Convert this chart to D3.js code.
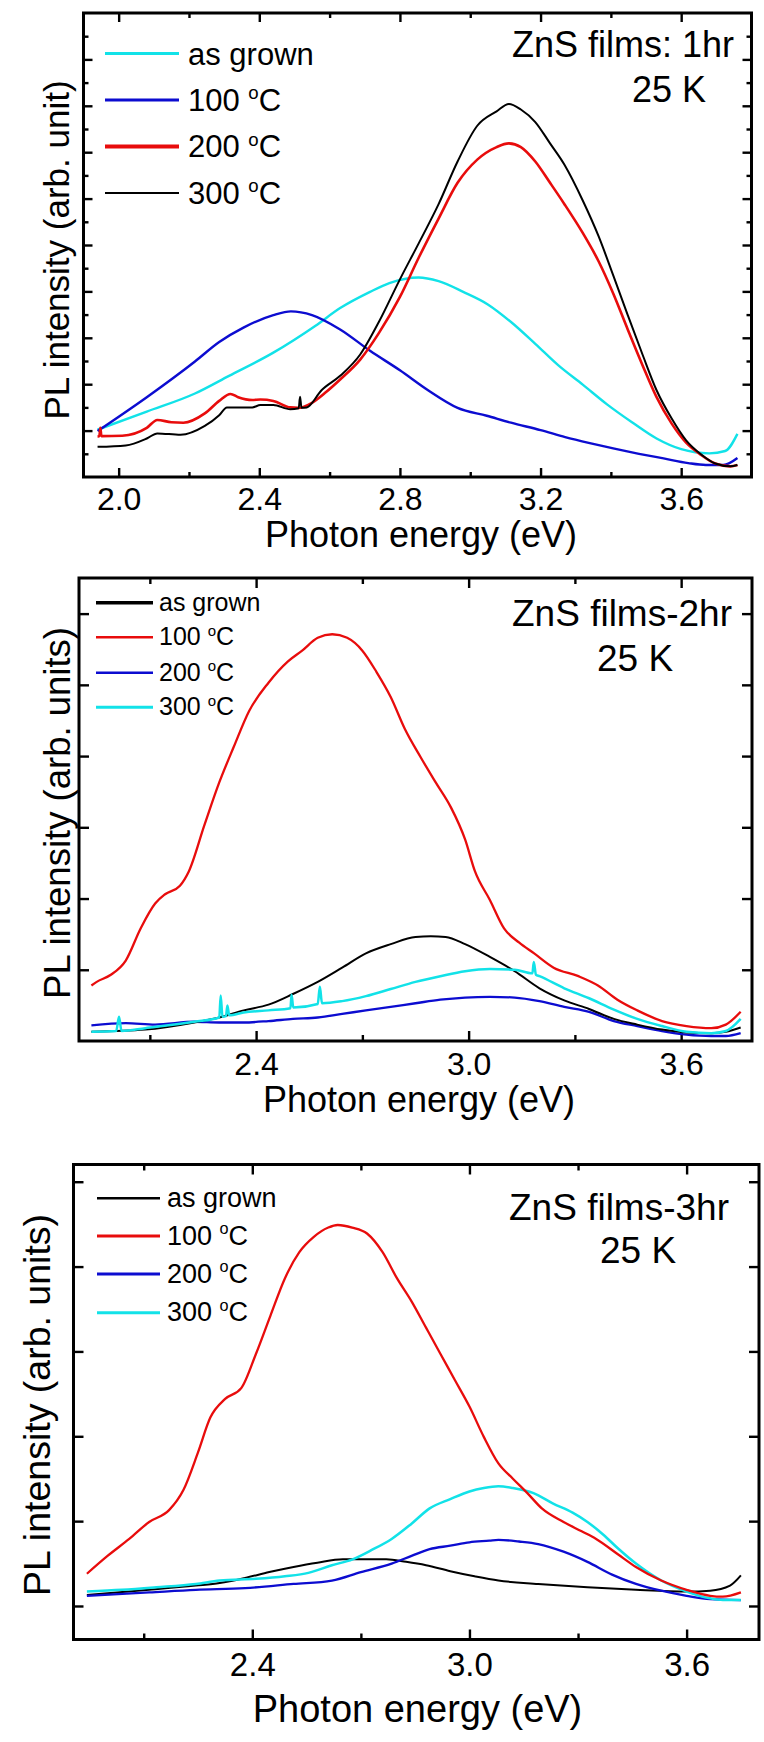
<!DOCTYPE html>
<html><head><meta charset="utf-8">
<script src="https://cdn.jsdelivr.net/npm/d3@7"></script>
<style>
body{margin:0;background:#fff}
svg{display:block}
text{font-family:"Liberation Sans",Arial,Helvetica,sans-serif;fill:#000}
</style>
</head><body>
<svg id="c" width="764" height="1742"></svg>
<script>
// ---------- colours ----------
const CYAN = "#12e2e8", BLUE = "#0c0cd0", RED = "#e80c0c", BLACK = "#000000";

// ---------- tick values ----------
const p1XMajor = [2.0, 2.4, 2.8, 3.2, 3.6];
const p1XMinor = [2.2, 2.6, 3.0, 3.4];
const p1YMajor = [1, 2, 3, 4, 5, 6, 7, 8, 9];
const p1YMinor = [0.5, 1.5, 2.5, 3.5, 4.5, 5.5, 6.5, 7.5, 8.5, 9.5];
const p23XMajor = [2.4, 3.0, 3.6];
const p23XMinor = [2.1, 2.7, 3.3];
const p2YMajor = [1, 2, 3, 4, 5, 6];
const p3YMajor = [0, 1, 2, 3, 4, 5];

// ---------- labels ----------
const legendLabels1 = ["as grown", "100", "200", "300"];
const legendLabels23 = ["as grown", "100", "200", "300"];
const xTitle = "Photon energy (eV)";
const yTitle1 = "PL intensity (arb. unit)";
const yTitle23 = "PL intensity (arb. units)";
const notes1 = ["ZnS films: 1hr", "25 K"];
const notes2 = ["ZnS films-2hr", "25 K"];
const notes3 = ["ZnS films-3hr", "25 K"];

// ---------- panel 1 data [eV, intensity] ----------
const p1AsGrown = [[1.94,1.02],[2.08,1.41],[2.217,1.80],[2.314,2.18],[2.44,2.68],[2.56,3.26],[2.63,3.64],[2.715,3.99],[2.77,4.18],[2.853,4.30],[2.91,4.22],[2.98,3.99],[3.05,3.72],[3.116,3.34],[3.185,2.87],[3.25,2.41],[3.32,1.99],[3.39,1.56],[3.46,1.18],[3.53,0.83],[3.60,0.60],[3.68,0.51],[3.725,0.56],[3.76,0.93]];
const p1T100 = [[1.94,0.99],[2.08,1.72],[2.217,2.49],[2.286,2.91],[2.355,3.22],[2.44,3.49],[2.49,3.57],[2.55,3.49],[2.63,3.18],[2.715,2.72],[2.80,2.30],[2.88,1.87],[2.964,1.49],[3.047,1.32],[3.116,1.17],[3.20,1.01],[3.27,0.86],[3.34,0.73],[3.41,0.61],[3.48,0.50],[3.55,0.40],[3.62,0.30],[3.67,0.26],[3.72,0.26],[3.76,0.41]];
const p1T200 = [[1.94,0.87],[1.945,0.88],[1.948,1.06],[1.951,0.88],[2.01,0.89],[2.08,1.06],[2.11,1.23],[2.15,1.18],[2.184,1.17],[2.245,1.37],[2.286,1.64],[2.318,1.79],[2.34,1.72],[2.38,1.66],[2.403,1.67],[2.44,1.64],[2.488,1.50],[2.51,1.49],[2.55,1.60],[2.59,1.83],[2.63,2.10],[2.687,2.53],[2.74,3.10],[2.80,3.88],[2.853,4.72],[2.91,5.57],[2.964,6.34],[3.02,6.84],[3.075,7.11],[3.11,7.19],[3.144,7.11],[3.185,6.80],[3.227,6.34],[3.268,5.88],[3.32,5.26],[3.365,4.65],[3.407,3.95],[3.448,3.18],[3.49,2.41],[3.53,1.72],[3.573,1.15],[3.614,0.74],[3.656,0.48],[3.697,0.29],[3.74,0.23],[3.76,0.26]];
const p1T300 = [[1.94,0.65],[2.02,0.68],[2.08,0.83],[2.11,0.94],[2.176,0.91],[2.245,1.10],[2.286,1.33],[2.308,1.50],[2.38,1.50],[2.403,1.55],[2.44,1.55],[2.488,1.46],[2.512,1.48],[2.516,1.73],[2.52,1.49],[2.535,1.50],[2.577,1.87],[2.63,2.18],[2.687,2.64],[2.74,3.34],[2.80,4.26],[2.853,5.03],[2.91,5.88],[2.964,6.80],[3.02,7.57],[3.075,7.88],[3.11,8.04],[3.144,7.92],[3.185,7.65],[3.227,7.19],[3.268,6.73],[3.32,5.96],[3.365,5.19],[3.407,4.34],[3.448,3.49],[3.49,2.64],[3.53,1.87],[3.573,1.26],[3.614,0.79],[3.656,0.49],[3.697,0.29],[3.74,0.23],[3.76,0.26]];

// ---------- panel 2 data ----------
const p2AsGrown = [[1.935,0.13],[2.087,0.16],[2.226,0.26],[2.296,0.33],[2.365,0.43],[2.435,0.51],[2.504,0.66],[2.574,0.83],[2.643,1.03],[2.71,1.23],[2.78,1.36],[2.85,1.46],[2.893,1.47],[2.935,1.46],[2.99,1.36],[3.06,1.18],[3.13,0.98],[3.2,0.74],[3.27,0.57],[3.34,0.45],[3.41,0.31],[3.476,0.23],[3.546,0.16],[3.615,0.12],[3.685,0.11],[3.726,0.13],[3.768,0.19]];
const p2T100 = [[1.935,0.78],[1.95,0.83],[1.99,0.93],[2.032,1.13],[2.074,1.58],[2.115,1.93],[2.143,2.06],[2.185,2.18],[2.21,2.38],[2.254,3.03],[2.296,3.63],[2.337,4.13],[2.38,4.63],[2.435,5.03],[2.49,5.33],[2.53,5.48],[2.574,5.66],[2.615,5.71],[2.657,5.66],[2.70,5.48],[2.74,5.18],[2.78,4.83],[2.82,4.38],[2.865,3.98],[2.907,3.63],[2.95,3.28],[2.99,2.83],[3.018,2.38],[3.06,1.98],[3.10,1.58],[3.143,1.38],[3.185,1.23],[3.24,1.03],[3.31,0.91],[3.365,0.78],[3.42,0.58],[3.476,0.43],[3.546,0.28],[3.615,0.21],[3.685,0.18],[3.726,0.23],[3.768,0.41]];
const p2T200 = [[1.935,0.22],[2.032,0.25],[2.115,0.23],[2.226,0.27],[2.296,0.26],[2.365,0.26],[2.435,0.28],[2.504,0.31],[2.574,0.33],[2.643,0.38],[2.71,0.43],[2.78,0.48],[2.85,0.53],[2.92,0.58],[2.99,0.61],[3.06,0.62],[3.13,0.61],[3.2,0.56],[3.27,0.48],[3.34,0.41],[3.41,0.28],[3.476,0.21],[3.546,0.14],[3.615,0.09],[3.685,0.07],[3.726,0.07],[3.768,0.11]];
const p2T300 = [[1.935,0.13],[2.005,0.14],[2.013,0.34],[2.02,0.14],[2.087,0.18],[2.226,0.27],[2.296,0.33],[2.30,0.64],[2.305,0.34],[2.315,0.35],[2.319,0.50],[2.324,0.36],[2.365,0.40],[2.435,0.43],[2.497,0.46],[2.50,0.65],[2.505,0.47],[2.574,0.52],[2.58,0.76],[2.586,0.53],[2.643,0.56],[2.71,0.63],[2.78,0.73],[2.85,0.83],[2.92,0.91],[2.99,0.98],[3.06,1.01],[3.13,1.0],[3.18,0.95],[3.184,1.11],[3.19,0.93],[3.20,0.91],[3.27,0.74],[3.34,0.60],[3.41,0.44],[3.476,0.31],[3.546,0.21],[3.615,0.13],[3.685,0.11],[3.726,0.14],[3.768,0.31]];

// ---------- panel 3 data ----------
const p3AsGrown = [[1.943,0.13],[2.115,0.19],[2.244,0.24],[2.31,0.27],[2.38,0.33],[2.447,0.40],[2.514,0.46],[2.58,0.51],[2.65,0.55],[2.7,0.55],[2.77,0.55],[2.825,0.52],[2.88,0.48],[2.947,0.41],[3.014,0.35],[3.08,0.30],[3.19,0.26],[3.326,0.22],[3.46,0.19],[3.6,0.17],[3.665,0.18],[3.72,0.24],[3.75,0.36]];
const p3T100 = [[1.943,0.38],[2.0,0.59],[2.06,0.79],[2.115,0.99],[2.17,1.13],[2.21,1.37],[2.25,1.81],[2.284,2.22],[2.325,2.44],[2.37,2.57],[2.41,2.97],[2.45,3.42],[2.49,3.86],[2.53,4.17],[2.57,4.35],[2.61,4.46],[2.636,4.49],[2.676,4.46],[2.717,4.39],[2.76,4.17],[2.80,3.86],[2.84,3.59],[2.88,3.28],[2.92,2.97],[2.96,2.66],[3.0,2.35],[3.04,1.99],[3.08,1.68],[3.12,1.50],[3.16,1.33],[3.2,1.15],[3.26,0.99],[3.31,0.88],[3.35,0.79],[3.41,0.61],[3.46,0.46],[3.53,0.30],[3.6,0.19],[3.665,0.12],[3.7,0.11],[3.75,0.16]];
const p3T200 = [[1.943,0.12],[2.115,0.16],[2.244,0.19],[2.38,0.21],[2.514,0.26],[2.62,0.30],[2.7,0.40],[2.785,0.50],[2.84,0.59],[2.89,0.67],[2.947,0.71],[3.0,0.75],[3.055,0.77],[3.08,0.78],[3.137,0.76],[3.19,0.73],[3.26,0.64],[3.326,0.52],[3.394,0.37],[3.46,0.26],[3.53,0.18],[3.6,0.12],[3.665,0.08],[3.75,0.07]];
const p3T300 = [[1.943,0.17],[2.04,0.19],[2.135,0.22],[2.244,0.26],[2.31,0.30],[2.41,0.32],[2.49,0.35],[2.555,0.39],[2.62,0.48],[2.677,0.55],[2.73,0.66],[2.785,0.79],[2.84,0.97],[2.89,1.15],[2.947,1.26],[3.0,1.35],[3.04,1.39],[3.08,1.41],[3.12,1.39],[3.177,1.33],[3.23,1.21],[3.285,1.10],[3.326,0.99],[3.37,0.84],[3.41,0.68],[3.46,0.50],[3.53,0.30],[3.6,0.17],[3.665,0.09],[3.7,0.07],[3.75,0.07]];

const svg = d3.select("#c");
const FONT = '"Liberation Sans",Arial,Helvetica,sans-serif';

function degreeLabel(t, num, fs) {
  if (num === "as grown") { t.text(num); return; }
  t.append("tspan").text(num + " ");
  t.append("tspan").text("o").attr("font-size", fs * 0.6).attr("dy", -fs * 0.38);
  t.append("tspan").text("C").attr("dy", fs * 0.38);
}

function drawPanel(c) {
  const g = svg.append("g");
  const x = d3.scaleLinear().domain(c.xDom).range([c.L, c.R]);
  const y = d3.scaleLinear().domain(c.yDom).range([c.B, c.T]);
  const fmt = d3.format(".1f");
  const style = sel => {
    sel.select(".domain").remove();
    sel.selectAll(".tick line").attr("stroke", "#000").attr("stroke-width", 2.4);
    sel.selectAll("text").attr("font-family", FONT).attr("font-size", c.tickFs).attr("fill", "#000");
  };
  g.append("g").attr("transform", `translate(0,${c.B})`)
    .call(d3.axisBottom(x).tickValues(c.xMajor).tickSize(-c.maj).tickPadding(c.pad).tickFormat(fmt)).call(style);
  g.append("g").attr("transform", `translate(0,${c.B})`)
    .call(d3.axisBottom(x).tickValues(c.xMinor).tickSize(-c.min).tickFormat("")).call(style);
  g.append("g").attr("transform", `translate(0,${c.T})`)
    .call(d3.axisTop(x).tickValues(c.xMajor).tickSize(-c.maj).tickFormat("")).call(style);
  g.append("g").attr("transform", `translate(0,${c.T})`)
    .call(d3.axisTop(x).tickValues(c.xMinor).tickSize(-c.min).tickFormat("")).call(style);
  g.append("g").attr("transform", `translate(${c.L},0)`)
    .call(d3.axisLeft(y).tickValues(c.yMajor).tickSize(-c.maj).tickFormat("")).call(style);
  g.append("g").attr("transform", `translate(${c.R},0)`)
    .call(d3.axisRight(y).tickValues(c.yMajor).tickSize(-c.maj).tickFormat("")).call(style);
  if (c.yMinor) {
    g.append("g").attr("transform", `translate(${c.L},0)`)
      .call(d3.axisLeft(y).tickValues(c.yMinor).tickSize(-c.min).tickFormat("")).call(style);
    g.append("g").attr("transform", `translate(${c.R},0)`)
      .call(d3.axisRight(y).tickValues(c.yMinor).tickSize(-c.min).tickFormat("")).call(style);
  }
  const line = d3.line().x(d => x(d[0])).y(d => y(d[1])).curve(d3.curveMonotoneX);
  c.series.forEach(s => {
    g.append("path").attr("d", line(s.data)).attr("fill", "none")
      .attr("stroke", s.color).attr("stroke-width", s.w).attr("stroke-linejoin", "round");
  });
  g.append("rect").attr("x", c.L).attr("y", c.T).attr("width", c.R - c.L).attr("height", c.B - c.T)
    .attr("fill", "none").attr("stroke", "#000").attr("stroke-width", 3);
  c.legend.forEach((s, i) => {
    const ly = c.legY[i];
    g.append("line").attr("x1", c.legX1).attr("x2", c.legX2).attr("y1", ly).attr("y2", ly)
      .attr("stroke", s.color).attr("stroke-width", s.lw);
    const t = g.append("text").attr("x", c.legTx).attr("y", ly + c.legDy).attr("font-size", c.legFs);
    degreeLabel(t, s.label, c.legFs);
  });
  g.append("text").attr("x", c.n1x).attr("y", c.n1y).attr("font-size", c.noteFs).text(c.notes[0]);
  g.append("text").attr("x", c.n2x).attr("y", c.n2y).attr("font-size", c.noteFs).text(c.notes[1]);
  g.append("text").attr("x", c.xtX).attr("y", c.xtY).attr("text-anchor", "middle")
    .attr("font-size", c.titleFs).text(xTitle);
  g.append("text").attr("transform", `translate(${c.ytX},${c.ytY}) rotate(-90)`).attr("text-anchor", "middle")
    .attr("font-size", c.yTitleFs).text(c.yTitle);
}

// ---------- panel 1 ----------
drawPanel({
  L: 83.5, R: 751.5, T: 13, B: 477, xDom: [1.9, 3.8], yDom: [0, 10],
  xMajor: p1XMajor, xMinor: p1XMinor, yMajor: p1YMajor, yMinor: p1YMinor,
  maj: 9, min: 5, pad: 10, tickFs: 32,
  series: [
    {data: p1AsGrown, color: CYAN, w: 2.4},
    {data: p1T100, color: BLUE, w: 2.4},
    {data: p1T200, color: RED, w: 2.6},
    {data: p1T300, color: BLACK, w: 2}
  ],
  legend: [
    {label: legendLabels1[0], color: CYAN, lw: 3},
    {label: legendLabels1[1], color: BLUE, lw: 3},
    {label: legendLabels1[2], color: RED, lw: 4},
    {label: legendLabels1[3], color: BLACK, lw: 2}
  ],
  legX1: 105, legX2: 179, legY: [53.6, 100, 146.4, 193], legTx: 188, legDy: 11, legFs: 31,
  notes: notes1, n1x: 512, n1y: 57, n2x: 632, n2y: 102, noteFs: 36,
  xtX: 421, xtY: 547, titleFs: 36,
  yTitle: yTitle1, ytX: 69, ytY: 250, yTitleFs: 35
});

// ---------- panel 2 ----------
drawPanel({
  L: 79, R: 752, T: 578, B: 1041, xDom: [1.9, 3.8], yDom: [0, 6.5],
  xMajor: p23XMajor, xMinor: p23XMinor, yMajor: p2YMajor, yMinor: null,
  maj: 10, min: 6, pad: 11, tickFs: 32,
  series: [
    {data: p2T200, color: BLUE, w: 2.3},
    {data: p2AsGrown, color: BLACK, w: 2},
    {data: p2T300, color: CYAN, w: 2.5},
    {data: p2T100, color: RED, w: 2.3}
  ],
  legend: [
    {label: legendLabels23[0], color: BLACK, lw: 3.5},
    {label: legendLabels23[1], color: RED, lw: 2.5},
    {label: legendLabels23[2], color: BLUE, lw: 2.5},
    {label: legendLabels23[3], color: CYAN, lw: 3}
  ],
  legX1: 96, legX2: 153, legY: [602.7, 637.3, 672.7, 707.3], legTx: 159, legDy: 8, legFs: 25,
  notes: notes2, n1x: 512, n1y: 626, n2x: 597, n2y: 671, noteFs: 37,
  xtX: 419, xtY: 1112, titleFs: 36,
  yTitle: yTitle23, ytX: 70, ytY: 813, yTitleFs: 36.5
});

// ---------- panel 3 ----------
drawPanel({
  L: 73.5, R: 759, T: 1164.5, B: 1639.5, xDom: [1.906, 3.8], yDom: [-0.395, 5.203],
  xMajor: p23XMajor, xMinor: p23XMinor, yMajor: p3YMajor, yMinor: null,
  maj: 10, min: 6, pad: 13, tickFs: 33,
  series: [
    {data: p3AsGrown, color: BLACK, w: 2},
    {data: p3T200, color: BLUE, w: 2.3},
    {data: p3T300, color: CYAN, w: 2.5},
    {data: p3T100, color: RED, w: 2.3}
  ],
  legend: [
    {label: legendLabels23[0], color: BLACK, lw: 2.5},
    {label: legendLabels23[1], color: RED, lw: 3},
    {label: legendLabels23[2], color: BLUE, lw: 3},
    {label: legendLabels23[3], color: CYAN, lw: 3}
  ],
  legX1: 97, legX2: 160, legY: [1198.3, 1236, 1274, 1312.7], legTx: 167, legDy: 8.5, legFs: 27,
  notes: notes3, n1x: 509, n1y: 1220, n2x: 600, n2y: 1263, noteFs: 37,
  xtX: 417.5, xtY: 1722, titleFs: 38,
  yTitle: yTitle23, ytX: 50, ytY: 1405, yTitleFs: 37.5
});
</script>
</body></html>
